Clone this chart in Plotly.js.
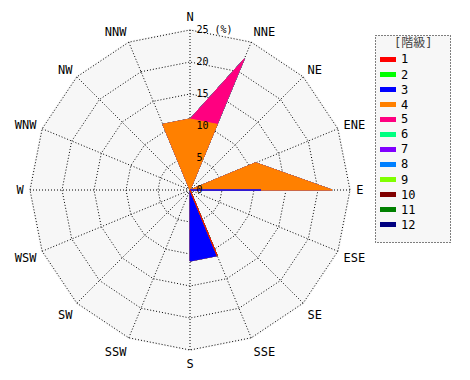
<!DOCTYPE html>
<html><head><meta charset="utf-8">
<script src="https://cdn.plot.ly/plotly-3.0.1.min.js"></script>
<style>html,body{margin:0;padding:0;background:#fff}</style>
</head><body><div id="chart" style="width:470px;height:380px"></div>
<script>
const directions = ['N','NNE','NE','ENE','E','ESE','SE','SSE','S','SSW','SW','WSW','W','WNW','NW','NNW'];
const classNames = ['1','2','3','4','5','6','7','8','9','10','11','12'];
const classColors = ['#ff0000','#00ff00','#0000ff','#ff8000','#ff0080','#00ff80','#8000ff','#0080ff','#80ff00','#800000','#008000','#000080'];
// frequency (%) of each class per direction, order as in `directions`
const class1  = [0,0,0,0,0,0,0,11.1,0,0,0,0,0,0,0,0];
const class2  = [0,0,0,0,0,0,0,0,0,0,0,0,0,0,0,0];
const class3  = [0,0,0,0,11.1,0,0,0,11.1,0,0,0,0,0,0,0];
const class4  = [11.1,11.1,0,11.1,11.1,0,0,0,0,0,0,0,0,0,0,11.1];
const class5  = [0,11.1,0,0,0,0,0,0,0,0,0,0,0,0,0,0];
const class6  = [0,0,0,0,0,0,0,0,0,0,0,0,0,0,0,0];
const class7  = [0,0,0,0,0,0,0,0,0,0,0,0,0,0,0,0];
const class8  = [0,0,0,0,0,0,0,0,0,0,0,0,0,0,0,0];
const class9  = [0,0,0,0,0,0,0,0,0,0,0,0,0,0,0,0];
const class10 = [0,0,0,0,0,0,0,0,0,0,0,0,0,0,0,0];
const class11 = [0,0,0,0,0,0,0,0,0,0,0,0,0,0,0,0];
const class12 = [0,0,0,0,0,0,0,0,0,0,0,0,0,0,0,0];
const radialTickVals = [0,5,10,15,20,25];
const radialTickText = ['0','5','10','15','20','25 (%)'];
const legendTitle = '[階級]';

const classValues = [class1,class2,class3,class4,class5,class6,class7,class8,class9,class10,class11,class12];
// cumulative sums
const cum = [];
classValues.forEach((vals,i)=>{
  cum.push(vals.map((v,j)=> v + (i>0 ? cum[i-1][j] : 0)));
});
const FONT = 'DejaVu Sans Mono, Noto Sans CJK JP, monospace';
const traces = [];
for (let i = classValues.length-1; i >= 0; i--) {
  const r = cum[i].concat([cum[i][0]]);
  const th = directions.concat([directions[0]]);
  traces.push({
    type:'scatterpolar', mode:'lines', r:r, theta:th, fill:'toself',
    fillcolor: classColors[i], line:{color:classColors[i], width:1},
    name: classNames[i], showlegend:false, hoverinfo:'skip'
  });
}
const W = 470, H = 380;
const px = x => x / W, py = y => 1 - y / H;
const RMAX = 25.2, R25 = 160, CX = 190, CY = 190;
const RPX = R25 * RMAX / 25;
const shapes = [{type:'rect', xref:'paper', yref:'paper', x0:px(375.5), x1:px(450.5), y0:py(35.5), y1:py(242.5),
  fillcolor:'#f7f7f7', line:{color:'#000', width:1, dash:'1px,2px'}, layer:'below'}];
const annotations = [{xref:'paper', yref:'paper', x:px(413), y:py(43), text:legendTitle, showarrow:false,
  xanchor:'center', yanchor:'middle', font:{family:FONT, size:12, color:'#444'}}];
classNames.forEach((n,i)=>{
  const yc = 59.5 + 15*i;
  shapes.push({type:'rect', xref:'paper', yref:'paper', x0:px(380), x1:px(396), y0:py(yc-2.5), y1:py(yc+2.5),
    fillcolor:classColors[i], line:{width:0}});
  annotations.push({xref:'paper', yref:'paper', x:px(399), y:py(yc), text:n, showarrow:false,
    xanchor:'left', yanchor:'middle', font:{family:FONT, size:12, color:'#000'}});
});
const layout = {
  width:W, height:H, margin:{l:0,r:0,t:0,b:0}, paper_bgcolor:'#fff', showlegend:false,
  font:{family:FONT, size:12, color:'#000'},
  polar:{
    domain:{x:[px(CX-RPX), px(CX+RPX)], y:[py(CY+RPX), py(CY-RPX)]},
    bgcolor:'#f7f7f7', gridshape:'linear',
    angularaxis:{type:'category', categoryarray:directions, rotation:90, direction:'clockwise',
      showgrid:true, gridcolor:'#000', gridwidth:1, griddash:'1px,2px', showline:false,
      ticks:'outside', ticklen:2, tickcolor:'rgba(0,0,0,0)',
      tickfont:{family:FONT, size:12, color:'#000'}},
    radialaxis:{range:[0,RMAX], angle:90, side:'clockwise', tickangle:90, tickmode:'array', tickvals:radialTickVals, ticktext:radialTickText,
      showline:false, ticks:'outside', ticklen:4, tickcolor:'rgba(0,0,0,0)', gridcolor:'#000', gridwidth:1, griddash:'1px,2px',
      tickfont:{family:FONT, size:10, color:'#000'}}
  },
  shapes:shapes, annotations:annotations
};
Plotly.newPlot('chart', traces, layout, {displayModeBar:false, staticPlot:true});
</script></body></html>
